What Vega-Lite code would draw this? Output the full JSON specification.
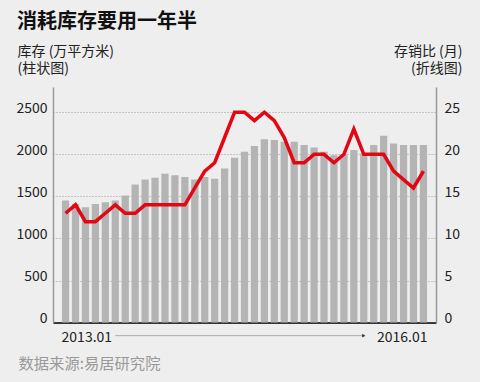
{
  "$schema": "https://vega.github.io/schema/vega-lite/v6.json",
  "width": 383,
  "height": 235.6,
  "autosize": "none",
  "padding": {"left": 53, "top": 87, "right": 44, "bottom": 59.4},
  "background": "#eeeeee",
  "config": {"view": {"stroke": null}, "font": "Noto Sans CJK SC"},
  "title": {
    "text": "消耗库存要用一年半",
    "anchor": "start",
    "frame": "group",
    "dx": -36,
    "fontSize": 20,
    "fontWeight": "bold",
    "color": "#111111",
    "font": "Noto Sans CJK SC",
    "offset": 12
  },
  "data": {
    "values": [
      {"m": "2013.01", "inv": 1450, "ratio": 13},
      {"m": "2013.02", "inv": 1410, "ratio": 14},
      {"m": "2013.03", "inv": 1370, "ratio": 12},
      {"m": "2013.04", "inv": 1410, "ratio": 12},
      {"m": "2013.05", "inv": 1430, "ratio": 13},
      {"m": "2013.06", "inv": 1450, "ratio": 14},
      {"m": "2013.07", "inv": 1510, "ratio": 13},
      {"m": "2013.08", "inv": 1640, "ratio": 13},
      {"m": "2013.09", "inv": 1700, "ratio": 14},
      {"m": "2013.10", "inv": 1720, "ratio": 14},
      {"m": "2013.11", "inv": 1770, "ratio": 14},
      {"m": "2013.12", "inv": 1750, "ratio": 14},
      {"m": "2014.01", "inv": 1730, "ratio": 14},
      {"m": "2014.02", "inv": 1700, "ratio": 16},
      {"m": "2014.03", "inv": 1730, "ratio": 18},
      {"m": "2014.04", "inv": 1710, "ratio": 19},
      {"m": "2014.05", "inv": 1830, "ratio": 22},
      {"m": "2014.06", "inv": 1960, "ratio": 25},
      {"m": "2014.07", "inv": 2030, "ratio": 25},
      {"m": "2014.08", "inv": 2100, "ratio": 24},
      {"m": "2014.09", "inv": 2180, "ratio": 25},
      {"m": "2014.10", "inv": 2170, "ratio": 24},
      {"m": "2014.11", "inv": 2150, "ratio": 22},
      {"m": "2014.12", "inv": 2150, "ratio": 19},
      {"m": "2015.01", "inv": 2110, "ratio": 19},
      {"m": "2015.02", "inv": 2080, "ratio": 20},
      {"m": "2015.03", "inv": 2030, "ratio": 20},
      {"m": "2015.04", "inv": 1990, "ratio": 19},
      {"m": "2015.05", "inv": 2000, "ratio": 20},
      {"m": "2015.06", "inv": 2050, "ratio": 23},
      {"m": "2015.07", "inv": 2010, "ratio": 20},
      {"m": "2015.08", "inv": 2110, "ratio": 20},
      {"m": "2015.09", "inv": 2220, "ratio": 20},
      {"m": "2015.10", "inv": 2130, "ratio": 18},
      {"m": "2015.11", "inv": 2110, "ratio": 17},
      {"m": "2015.12", "inv": 2110, "ratio": 16},
      {"m": "2016.01", "inv": 2110, "ratio": 18}
    ]
  },
  "layer": [
    {
      "mark": {"type": "bar", "color": "#b4b4b4"},
      "encoding": {
        "x": {
          "field": "m",
          "type": "ordinal",
          "scale": {"paddingInner": 0.27, "paddingOuter": 0.9},
          "axis": {
            "orient": "bottom",
            "values": ["2013.01", "2016.01"],
            "labelAngle": 0,
            "ticks": false,
            "tickSize": 0,
            "domainColor": "#000000",
            "domainWidth": 1.5,
            "labelPadding": 8,
            "labelFontSize": 14,
            "labelColor": "#222222",
            "labelAlign": {"expr": "datum.value == '2013.01' ? 'left' : 'right'"},
            "labelOffset": {"expr": "datum.value == '2013.01' ? -4 : 4"},
            "title": "数据来源:易居研究院",
            "titleAnchor": "start",
            "titleAlign": "left",
            "titleBaseline": "top",
            "titleX": -35,
            "titleY": 34,
            "titleColor": "#999999",
            "titleFontSize": 15.3,
            "titleFontWeight": "normal"
          }
        },
        "y": {
          "field": "inv",
          "type": "quantitative",
          "scale": {"domain": [0, 2800]},
          "axis": {
            "orient": "left",
            "values": [0, 500, 1000, 1500, 2000, 2500],
            "format": "d",
            "grid": true,
            "gridDash": [1, 2],
            "gridColor": "#999999",
            "domainColor": "#999999",
            "domainWidth": 1.5,
            "ticks": false,
            "tickSize": 0,
            "labelPadding": 6,
            "labelBaseline": "alphabetic",
            "labelFontSize": 14,
            "labelColor": "#222222",
            "title": ["库存 (万平方米)", "(柱状图)"],
            "titleAngle": 0,
            "titleAlign": "left",
            "titleBaseline": "top",
            "titleX": -36,
            "titleY": -43,
            "titleFontSize": 14,
            "titleFontWeight": "normal",
            "titleColor": "#222222",
            "titleLineHeight": 17
          }
        }
      }
    },
    {
      "mark": {"type": "line", "color": "#e30613", "strokeWidth": 3.5},
      "encoding": {
        "x": {"field": "m", "type": "ordinal"},
        "y": {
          "field": "ratio",
          "type": "quantitative",
          "scale": {"domain": [0, 28]},
          "axis": {
            "orient": "right",
            "values": [0, 5, 10, 15, 20, 25],
            "format": "d",
            "grid": false,
            "domainColor": "#999999",
            "domainWidth": 1.5,
            "ticks": false,
            "tickSize": 0,
            "labelPadding": 8,
            "labelBaseline": "alphabetic",
            "labelFontSize": 14,
            "labelColor": "#222222",
            "title": ["存销比 (月)", "(折线图)"],
            "titleAngle": 0,
            "titleAlign": "right",
            "titleBaseline": "top",
            "titleX": 26,
            "titleY": -43,
            "titleFontSize": 14,
            "titleFontWeight": "normal",
            "titleColor": "#222222",
            "titleLineHeight": 17
          }
        }
      }
    },
    {
      "data": {"values": [{"a": "2013.06", "b": "2015.07"}]},
      "mark": {"type": "rule", "color": "#aaaaaa", "strokeWidth": 1},
      "encoding": {
        "x": {"field": "a", "type": "ordinal"},
        "x2": {"field": "b"},
        "y": {"datum": -155, "type": "quantitative", "scale": {"domain": [0, 2800]}, "axis": null}
      }
    },
    {
      "data": {"values": [{"b": "2015.07"}]},
      "mark": {"type": "point", "shape": "triangle-right", "filled": true, "color": "#333333", "size": 14, "opacity": 1},
      "encoding": {
        "x": {"field": "b", "type": "ordinal"},
        "y": {"datum": -155, "type": "quantitative", "scale": {"domain": [0, 2800]}, "axis": null}
      }
    }
  ],
  "resolve": {"scale": {"y": "independent"}}
}
